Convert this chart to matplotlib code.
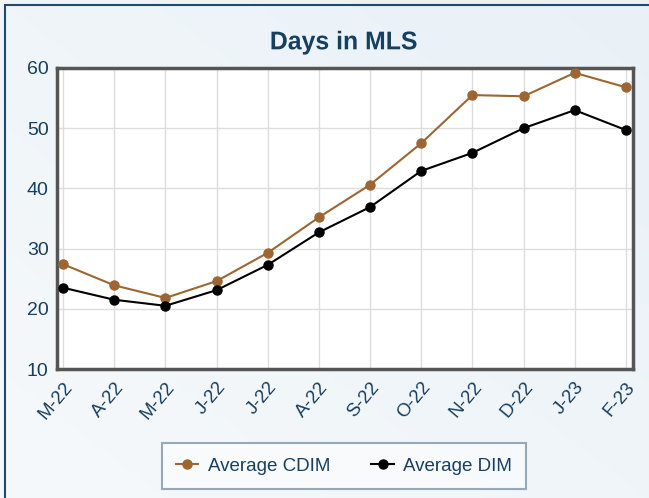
import numpy as np
import matplotlib.pyplot as plt
from matplotlib.patches import Rectangle, PathPatch
from matplotlib.textpath import TextPath
from matplotlib.font_manager import FontProperties
from matplotlib.transforms import Affine2D

plt.rcParams['font.family'] = ['Liberation Sans', 'DejaVu Sans']

months = ["M-22", "A-22", "M-22", "J-22", "J-22", "A-22", "S-22",
          "O-22", "N-22", "D-22", "J-23", "F-23"]
avg_cdim = [27.4, 23.9, 21.8, 24.6, 29.3, 35.2, 40.6, 47.5, 55.5, 55.3, 59.2, 56.8]
avg_dim = [23.5, 21.5, 20.5, 23.1, 27.3, 32.7, 36.9, 42.9, 45.9, 50.0, 53.0, 49.7]

txt = "#173f5f"
W, H = 649, 498

fig = plt.figure(figsize=(6.49, 4.98), dpi=100)

# light gradient background
bg = fig.add_axes([0, 0, 1, 1], zorder=-10)
gx, gy = np.meshgrid(np.linspace(0, 1, 200), np.linspace(0, 1, 200))
g = (gx + (1 - gy)) / 2
bg.imshow(g, cmap=plt.matplotlib.colors.LinearSegmentedColormap.from_list(
    "bgc", ["#f6f9fb", "#e9f1f7"]), extent=[0, 1, 0, 1], aspect="auto", origin="upper")
bg.add_patch(Rectangle((4.5 / W, -0.1), 1.2, 1.1 - 5.5 / H, fill=False,
                       edgecolor="#1f4a6e", lw=1.5, transform=bg.transAxes))
bg.set_xlim(0, 1)
bg.set_ylim(0, 1)
bg.axis("off")

ax = fig.add_axes([57 / W, 1 - 369 / H, (633 - 57) / W, (369 - 68) / H])
ax.set_facecolor("white")
x = np.arange(len(months))
ax.plot(x, avg_cdim, "-o", color="#9c6633", lw=1.5, ms=6.5, label="Average CDIM", zorder=3)
ax.plot(x, avg_dim, "-o", color="black", lw=1.5, ms=6.5, label="Average DIM", zorder=3)

ax.set_xlim(-0.12, 11.14)
ax.set_ylim(10, 60)
ax.set_yticks([10, 20, 30, 40, 50, 60])
ax.set_xticks(x)
ax.set_xticklabels(months, rotation=50, ha="right", rotation_mode="anchor")
ax.tick_params(axis="both", length=0, labelcolor=txt, labelsize=14)
ax.tick_params(axis="x", labelsize=13.5, pad=7)
ax.tick_params(axis="y", pad=6)
ax.grid(True, color="#dddddd", lw=1)
for s in ax.spines.values():
    s.set_color("#555555")
    s.set_linewidth(2.5)

# title, drawn as a path so its size matches the original
tp = TextPath((0, 0), "Days in MLS", size=24.5, prop=FontProperties(family="Liberation Sans", weight="bold"))
bb = tp.get_extents()
sx = 145 / bb.width
tr = Affine2D().translate(-bb.x0 - bb.width / 2, 0).scale(sx, 1.045).translate(344, H - 49.3)
fig.patches.append(PathPatch(tp, transform=tr, facecolor=txt, edgecolor="none", figure=fig))

leg = fig.legend(loc="center", bbox_to_anchor=(344 / W, 1 - 466 / H), ncol=2,
                 frameon=True, fancybox=False, fontsize=13.5, handlelength=1.2,
                 handletextpad=0.5, columnspacing=2.2, borderpad=0.75, labelcolor=txt)
leg.get_frame().set_edgecolor("#7f95a8")
leg.get_frame().set_facecolor("#fafcfd")
leg.get_frame().set_linewidth(1.5)

fig.savefig("out.png", dpi=100)
